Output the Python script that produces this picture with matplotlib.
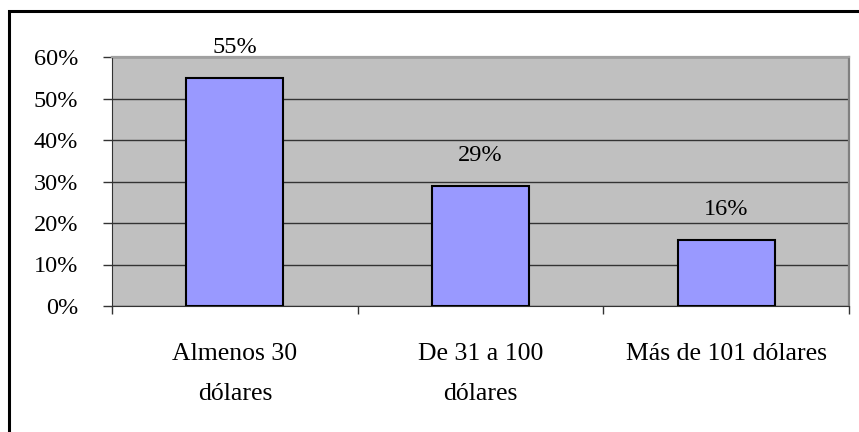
import matplotlib
matplotlib.use("Agg")
import matplotlib.pyplot as plt
from matplotlib.patches import Rectangle

categories = ["Almenos 30\ndólares", "De 31 a 100\ndólares", "Más de 101 dólares"]
values = [55, 29, 16]
yticks = [0, 10, 20, 30, 40, 50, 60]
ytick_labels = ["0%", "10%", "20%", "30%", "40%", "50%", "60%"]
value_labels = ["55%", "29%", "16%"]

W, H = 859, 432
fig = plt.figure(figsize=(W / 100, H / 100), dpi=100)
fig.patch.set_facecolor("white")

font = "Liberation Serif"
fs = 17.5

# outer frame (right/bottom edges cropped in reference)
fig.patches.append(Rectangle((9 / W, -0.1), 1.2, 1 - 11 / H + 0.1,
                             transform=fig.transFigure, fill=False,
                             edgecolor="black", linewidth=2.2, zorder=0))

ax = fig.add_axes([112 / W, 1 - 306 / H, (849 - 112) / W, (306 - 57) / H])
ax.set_facecolor("#C0C0C0")

x = [i + 0.5 for i in range(len(categories))]
bars = ax.bar(x, values, width=0.395, color="#9999FF", edgecolor="black",
              linewidth=1.5, zorder=3)

ax.set_xlim(0, 3)
ax.set_ylim(0, 60)
ax.set_yticks(yticks)
ax.set_yticklabels(ytick_labels, family=font, fontsize=fs)
ax.yaxis.grid(True, color="#333333", linewidth=1.0, zorder=1)
ax.set_axisbelow(True)

ax.set_xticks([0, 1, 2, 3])
ax.set_xticklabels([])
ax.set_xticks(x, minor=True)
ax.set_xticklabels(categories, minor=True, family=font, fontsize=18.5,
                   linespacing=2.0)
ax.tick_params(axis="x", which="minor", length=0, pad=27)
ax.tick_params(axis="x", which="major", length=6, width=1, color="#333333")
ax.tick_params(axis="y", length=6.5, width=1, color="#333333", pad=18)

ax.spines["left"].set_color("#333333")
ax.spines["right"].set_color("#808080")
ax.spines["right"].set_linewidth(1.6)
ax.spines["top"].set_color("#A0A0A0")
ax.spines["top"].set_linewidth(1.6)
ax.spines["bottom"].set_color("#333333")

for xi, v, lab in zip(x, values, value_labels):
    ax.annotate(lab, (xi, v), xytext=(0, 22), textcoords="offset points",
                ha="center", va="center", family=font, fontsize=fs)

fig.savefig("out.png", dpi=100)
